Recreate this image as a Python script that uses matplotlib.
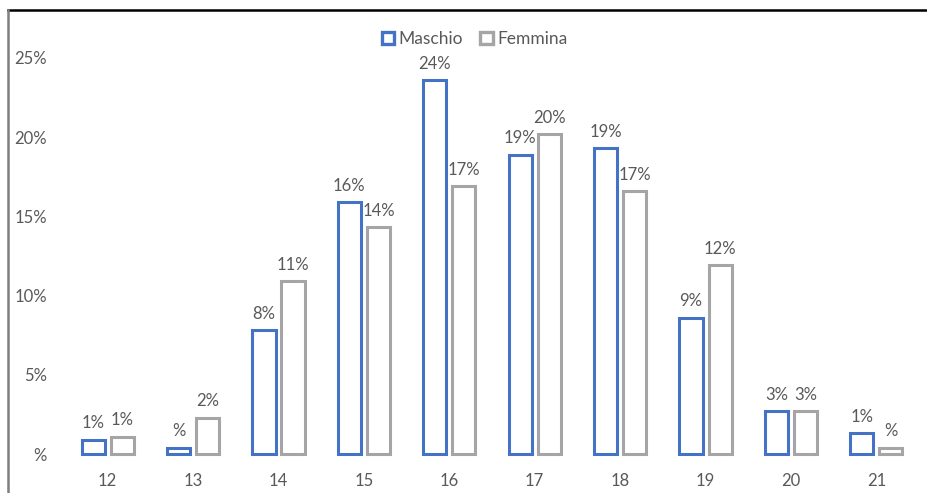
import matplotlib
matplotlib.use("Agg")
import matplotlib.pyplot as plt
import numpy as np
from matplotlib.lines import Line2D
from matplotlib.patches import Patch

# data (percent)
eta = ["12", "13", "14", "15", "16", "17", "18", "19", "20", "21"]
maschio = [0.9, 0.4, 7.8, 15.9, 23.6, 18.9, 19.3, 8.6, 2.7, 1.3]
femmina = [1.1, 2.3, 10.9, 14.3, 16.9, 20.2, 16.6, 11.9, 2.7, 0.4]
yticks = [0, 5, 10, 15, 20, 25]

BLUE = "#4472C4"
GREY = "#A5A5A5"
TEXT = "#595959"

plt.rcParams['font.family'] = ['Lato', 'DejaVu Sans']


def pct(v):
    # Excel-style "#%" format: zero shows only the sign
    r = int(round(v))
    return "%" if r == 0 else f"{r}%"


fig = plt.figure(figsize=(9.27, 4.93), dpi=100)
ax = fig.add_axes([0.0701, 0.0791, 0.9213, 0.8033])

x = np.arange(len(eta))
w = 0.27
off = 0.17

bars_m = ax.bar(x - off, maschio, w, facecolor="white", edgecolor=BLUE,
                linewidth=2.2, clip_on=False, label="Maschio")
bars_f = ax.bar(x + off, femmina, w, facecolor="white", edgecolor=GREY,
                linewidth=2.2, clip_on=False, label="Femmina")

# data labels
for bars, vals in [(bars_m, maschio), (bars_f, femmina)]:
    for b, v in zip(bars, vals):
        ax.annotate(pct(v), (b.get_x() + b.get_width() / 2, v),
                    xytext=(0, 6), textcoords="offset points",
                    ha="center", va="bottom", fontsize=12, color=TEXT)

ax.set_xlim(-0.5, len(eta) - 0.5)
ax.set_ylim(0, 25)
ax.set_xticks(x)
ax.set_xticklabels(eta)
ax.set_yticks(yticks)
ax.set_yticklabels([pct(t) for t in yticks])
ax.tick_params(length=0, labelsize=12, labelcolor=TEXT)
ax.tick_params(axis="x", pad=14)
ax.tick_params(axis="y", pad=13)
for s in ax.spines.values():
    s.set_visible(False)

handles = [Patch(facecolor="white", edgecolor=BLUE, linewidth=2.4, label="Maschio"),
           Patch(facecolor="white", edgecolor=GREY, linewidth=2.4, label="Femmina")]
leg = fig.legend(handles=handles, loc="center", bbox_to_anchor=(0.512, 0.92),
                 ncol=2, frameon=False, fontsize=12.5, handlelength=0.7,
                 handleheight=0.7, handletextpad=0.25, columnspacing=1.0)
for t in leg.get_texts():
    t.set_color(TEXT)

# frame lines of the cropped chart area
fig.add_artist(Line2D([8 / 927, 1], [1 - 9.5 / 493, 1 - 9.5 / 493],
                      color="black", linewidth=1.8))
fig.add_artist(Line2D([8 / 927, 8 / 927], [0, 1 - 9.5 / 493],
                      color="#7F7F7F", linewidth=1.8))

fig.savefig("out.png", dpi=100)
